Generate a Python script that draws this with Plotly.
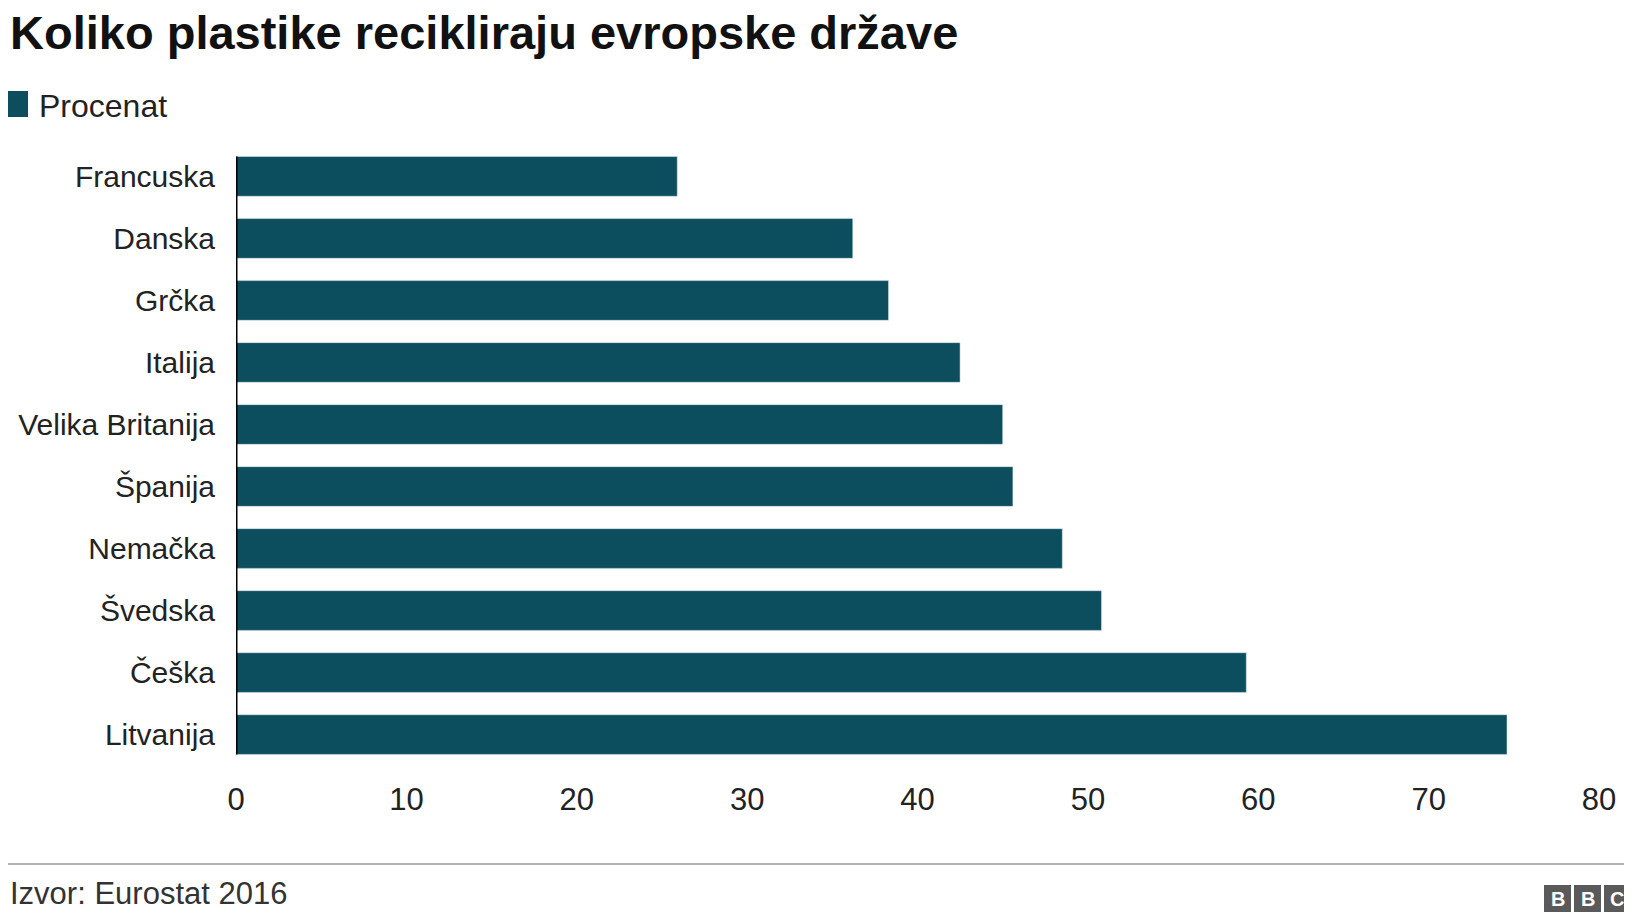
import plotly.graph_objects as go

countries = ["Francuska", "Danska", "Grčka", "Italija", "Velika Britanija",
             "Španija", "Nemačka", "Švedska", "Češka", "Litvanija"]
values = [25.9, 36.2, 38.3, 42.5, 45.0, 45.6, 48.5, 50.8, 59.3, 74.6]
xticks = [0, 10, 20, 30, 40, 50, 60, 70, 80]
color = "#0c4d5e"
W, H = 1632, 920
L, R, T, B = 228, 41, 125, 150
pw, ph = W - L - R, H - T - B
def px(x): return (x - L) / pw
def py(y): return 1 - (y - T) / ph

fig = go.Figure(go.Bar(x=values, y=countries, orientation="h",
                       marker_color=color, width=0.64, showlegend=False))
fig.update_layout(
    width=W, height=H, margin=dict(l=L, r=R, t=T, b=B, autoexpand=False),
    plot_bgcolor="white", paper_bgcolor="white",
    font=dict(family="Liberation Sans, Arial", color="#222222", size=32),
    xaxis=dict(range=[0, 80], tickvals=xticks, showgrid=False, zeroline=False,
               showline=False, ticks="", tickfont=dict(size=31), automargin=False),
    yaxis=dict(categoryorder="array", categoryarray=countries, autorange=False,
               range=[9.7, -0.7], showgrid=False, ticks="", ticklabelstandoff=20,
               tickfont=dict(size=30), automargin=False),
)
fig.add_shape(type="line", xref="x", yref="y", x0=0, x1=0, y0=-0.32, y1=9.32,
              line=dict(color="black", width=3))
fig.add_annotation(text="<b>Koliko plastike recikliraju evropske države</b>",
                   xref="paper", yref="paper", x=px(0), y=py(25), xanchor="left",
                   yanchor="middle", showarrow=False, font=dict(size=47, color="#111"))
fig.add_shape(type="rect", xref="paper", yref="paper", x0=px(0), x1=px(20),
              y0=py(83), y1=py(109), fillcolor=color, line_width=0)
fig.add_annotation(text="Procenat", xref="paper", yref="paper", x=px(29), y=py(98),
                   xanchor="left", yanchor="middle", showarrow=False, font=dict(size=32))
fig.add_shape(type="line", xref="paper", yref="paper", x0=px(0), x1=px(W),
              y0=py(856), y1=py(856), line=dict(color="#999", width=1.5))
fig.add_annotation(text="Izvor: Eurostat 2016", xref="paper", yref="paper", x=px(0),
                   y=py(885), xanchor="left", yanchor="middle", showarrow=False,
                   font=dict(size=31, color="#333"))
for i, ch in enumerate("BBC"):
    x0 = 1536 + i * 30
    fig.add_shape(type="rect", xref="paper", yref="paper", x0=px(x0), x1=px(x0 + 27),
                  y0=py(877), y1=py(904), fillcolor="#5a5a5a", line_width=0)
    fig.add_annotation(text="<b>" + ch + "</b>", xref="paper", yref="paper",
                       x=px(x0 + 13.5), y=py(890.5), xanchor="center", yanchor="middle",
                       showarrow=False, font=dict(size=20, color="white"))
fig.write_html("out.html")
